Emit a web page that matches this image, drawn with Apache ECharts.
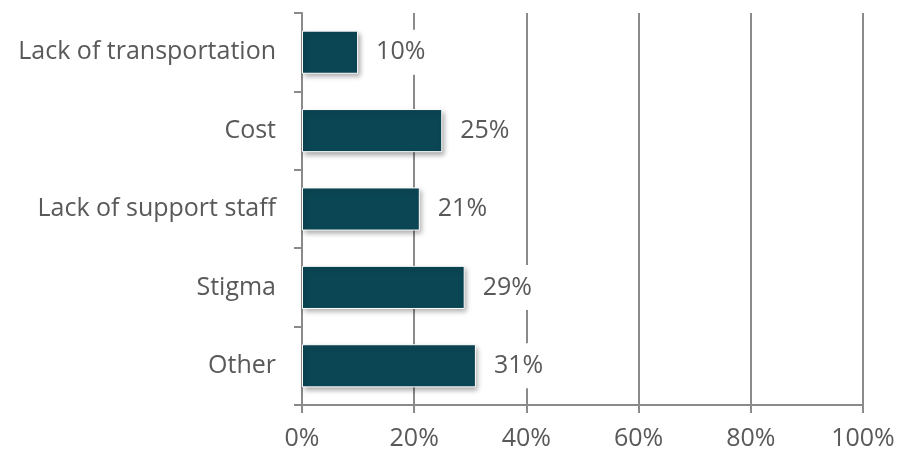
<!DOCTYPE html>
<html>
<head>
<meta charset="utf-8">
<script src="https://cdn.jsdelivr.net/npm/echarts@6/dist/echarts.min.js"></script>
<style>
  html, body { margin: 0; padding: 0; background: #fff; }
  #chart { width: 901px; height: 455px; }
</style>
</head>
<body>
<div id="chart"></div>
<script>
// Barriers reported, share of respondents
const categories = ['Lack of transportation', 'Cost', 'Lack of support staff', 'Stigma', 'Other'];
const shares = [10, 25, 21, 29, 31];
const axisTicks = [0, 20, 40, 60, 80, 100];

const FONT = 'Open Sans';
const TEXT = '#595959';
const LINE = '#8a8a8a';

const chart = echarts.init(document.getElementById('chart'));
chart.setOption({
  animation: false,
  grid: { left: 302, right: 38, top: 13, bottom: 50, containLabel: false },
  xAxis: {
    type: 'value',
    min: axisTicks[0],
    max: axisTicks[axisTicks.length - 1],
    interval: axisTicks[1] - axisTicks[0],
    axisLine: { show: true, lineStyle: { color: LINE, width: 2 } },
    axisTick: { show: true, length: 8, lineStyle: { color: LINE, width: 2 } },
    axisLabel: { color: TEXT, fontFamily: FONT, fontSize: 25, margin: 21, formatter: '{value}%' },
    splitLine: { show: true, lineStyle: { color: LINE, width: 2 } }
  },
  yAxis: {
    type: 'category',
    data: categories,
    inverse: true,
    axisLine: { show: true, lineStyle: { color: LINE, width: 2 } },
    axisTick: { show: true, length: 8, lineStyle: { color: LINE, width: 2 } },
    axisLabel: { color: TEXT, fontFamily: FONT, fontSize: 25, margin: 26 },
    splitLine: { show: false }
  },
  series: [{
    type: 'bar',
    data: shares,
    barWidth: '55%',
    itemStyle: {
      color: '#0b4654',
      borderColor: '#ffffff',
      borderWidth: 1,
      shadowColor: 'rgba(0,0,0,0.35)',
      shadowBlur: 5,
      shadowOffsetX: 2,
      shadowOffsetY: 3
    },
    label: {
      show: true,
      position: 'right',
      distance: 12,
      formatter: '{c}%',
      color: TEXT,
      fontFamily: FONT,
      fontSize: 25,
      backgroundColor: '#ffffff',
      padding: [10, 6, 10, 6]
    }
  }]
});
</script>
</body>
</html>
